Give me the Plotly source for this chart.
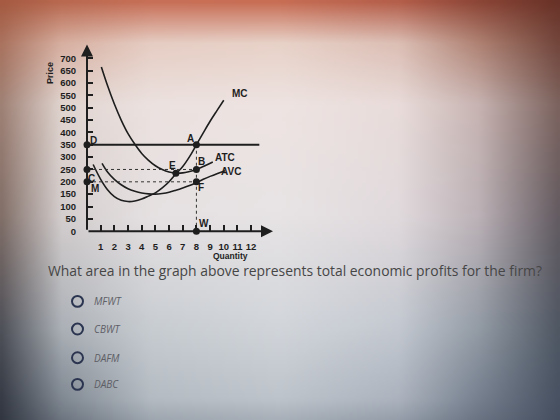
import base64, struct, zlib
import numpy as np
import plotly.graph_objects as go

# ---------------- data ----------------
mc_q = [0.45, 1, 1.5, 2, 2.5, 3, 3.5, 4, 4.5, 5, 5.5, 6, 6.5, 7, 7.5, 8, 8.5, 9, 9.5, 10]
mc_p = [270, 210, 168, 140, 125, 120, 122, 130, 142, 155, 175, 200, 232, 262, 302, 350, 398, 445, 488, 530]

atc_q = [1.05, 1.5, 2, 2.5, 3, 3.5, 4, 4.5, 5, 5.5, 6, 6.5, 7, 7.5, 8, 8.5, 9.2]
atc_p = [665, 590, 515, 450, 395, 352, 315, 287, 265, 250, 240, 235, 236, 242, 250, 262, 280]

avc_q = [1.1, 1.5, 2, 2.5, 3, 3.5, 4, 4.5, 5, 5.5, 6, 6.5, 7, 7.5, 8, 8.5, 9, 9.5, 10.1]
avc_p = [275, 240, 210, 188, 172, 162, 155, 151, 150, 153, 158, 166, 175, 185, 197, 210, 222, 233, 245]

price_mr = 350
mr_q = [0, 12.6]

point_names = ["D", "A", "E", "B", "F", "W", "C", "M"]
point_q = [0, 8, 6.5, 8, 8, 8, 0, 0]
point_p = [350, 350, 235, 250, 200, 0, 250, 200]

x_ticks = list(range(1, 13))
y_ticks = list(range(0, 701, 50))

question = "What area in the graph above represents total economic profits for the firm?"
options = ["MFWT", "CBWT", "DAFM", "DABC"]

# ---------------- background (photo vignette) ----------------
bg_x = [0, 60, 150, 280, 400, 480, 560]
bg_y = [0, 40, 100, 210, 320, 390, 420]
bg_rows = [
    [(165, 90, 65), (185, 105, 80), (200, 112, 88), (200, 110, 85), (180, 95, 75), (140, 70, 55), (105, 50, 40)],
    [(170, 115, 95), (215, 175, 160), (230, 205, 195), (232, 210, 200), (220, 190, 180), (175, 130, 115), (115, 70, 60)],
    [(160, 130, 118), (225, 213, 208), (236, 226, 224), (238, 228, 226), (233, 220, 218), (200, 180, 178), (125, 100, 95)],
    [(130, 112, 105), (212, 206, 206), (230, 225, 226), (232, 228, 229), (225, 218, 221), (188, 178, 183), (100, 92, 98)],
    [(80, 82, 90), (172, 177, 183), (200, 205, 210), (210, 214, 219), (196, 201, 209), (148, 156, 166), (80, 88, 100)],
    [(55, 60, 70), (128, 136, 146), (180, 187, 194), (190, 196, 203), (172, 179, 190), (118, 128, 143), (72, 82, 98)],
    [(48, 53, 63), (100, 108, 120), (148, 156, 166), (158, 166, 176), (138, 148, 160), (100, 110, 125), (68, 78, 95)],
]


def make_bg_png():
    W, H = 140, 105
    grid = np.array(bg_rows, dtype=float)
    px = np.linspace(0, 560, W)
    py = np.linspace(0, 420, H)
    tmp = np.zeros((len(bg_y), W, 3))
    for r in range(len(bg_y)):
        for c in range(3):
            tmp[r, :, c] = np.interp(px, bg_x, grid[r, :, c])
    img = np.zeros((H, W, 3))
    for i in range(W):
        for c in range(3):
            img[:, i, c] = np.interp(py, bg_y, tmp[:, i, c])
    img = np.clip(img, 0, 255).astype(np.uint8)
    raw = b"".join(b"\x00" + img[r].tobytes() for r in range(H))

    def chunk(tag, data):
        return struct.pack(">I", len(data)) + tag + data + struct.pack(">I", zlib.crc32(tag + data) & 0xFFFFFFFF)

    png = b"\x89PNG\r\n\x1a\n" + chunk(b"IHDR", struct.pack(">IIBBBBB", W, H, 8, 2, 0, 0, 0)) \
        + chunk(b"IDAT", zlib.compress(raw, 9)) + chunk(b"IEND", b"")
    return "data:image/png;base64," + base64.b64encode(png).decode()


INK = "#1e1e1e"
LBL = dict(family="Liberation Sans, Arial, sans-serif", size=10, color=INK, weight="bold")

fig = go.Figure()

# curves
for q, p in [(mc_q, mc_p), (atc_q, atc_p), (avc_q, avc_p)]:
    fig.add_trace(go.Scatter(x=q, y=p, mode="lines", line=dict(color=INK, width=1.6, shape="spline", smoothing=1.0),
                             hoverinfo="skip", showlegend=False, cliponaxis=False))

# P = MR line
fig.add_trace(go.Scatter(x=mr_q, y=[price_mr, price_mr], mode="lines", line=dict(color=INK, width=2),
                         showlegend=False, cliponaxis=False))

# dashed guides
qA = point_q[point_names.index("A")]
for nm in ["C", "M"]:
    i = point_names.index(nm)
    fig.add_trace(go.Scatter(x=[point_q[i], qA], y=[point_p[i], point_p[i]], mode="lines",
                             line=dict(color="#333", width=1, dash="dot"), showlegend=False, cliponaxis=False))
fig.add_trace(go.Scatter(x=[qA, qA], y=[price_mr, 0], mode="lines",
                         line=dict(color="#333", width=1, dash="dot"), showlegend=False, cliponaxis=False))

# points
fig.add_trace(go.Scatter(x=point_q, y=point_p, mode="markers", marker=dict(color=INK, size=7),
                         showlegend=False, cliponaxis=False))

# point labels
label_pos = {"D": (0.45, 368), "A": (7.6, 375), "E": (6.25, 268), "B": (8.35, 283),
             "C": (0.35, 213), "M": (0.55, 171), "F": (8.3, 176), "W": (8.55, 30)}
for nm, (lx, ly) in label_pos.items():
    fig.add_annotation(x=lx, y=ly, text=nm, showarrow=False, font=LBL)

for txt, lx, ly in [("MC", 11.2, 558), ("ATC", 10.1, 297), ("AVC", 10.55, 242), ("P=MR", 14.35, 345)]:
    fig.add_annotation(x=lx, y=ly, text=txt, showarrow=False, font=LBL)

# axis arrows
fig.add_annotation(x=13.6, y=0, ax=0, ay=0, axref="x", ayref="y", text="", showarrow=True,
                   arrowhead=2, arrowsize=1.2, arrowwidth=2, arrowcolor=INK)
fig.add_annotation(x=0, y=756, ax=0, ay=0, axref="x", ayref="y", text="", showarrow=True,
                   arrowhead=2, arrowsize=1.2, arrowwidth=2, arrowcolor=INK)

# axis titles
fig.add_annotation(xref="paper", yref="paper", x=50 / 560, y=1 - 74 / 420, yanchor="middle", xanchor="center",
                   text="Price", textangle=-90,
                   showarrow=False, font=dict(family="Liberation Sans, Arial", size=9, color=INK, weight="bold"))
fig.add_annotation(xref="paper", yref="paper", x=230 / 560, y=1 - 259 / 420, yanchor="middle",
                   text="Quantity",
                   showarrow=False, font=dict(family="Liberation Sans, Arial", size=8.5, color=INK, weight="bold"))

# question
fig.add_annotation(xref="paper", yref="paper", x=46 / 560, y=1 - 274 / 420, xanchor="left", yanchor="middle",
                   text=question,
                   showarrow=False, font=dict(family="Open Sans, sans-serif", size=13.9, color="#464646"))

opt_y = [305, 333, 362, 389]
for txt, yy in zip(options, opt_y):
    fig.add_shape(type="circle", xref="paper", yref="paper",
                  x0=(77.5 - 5.5) / 560, x1=(77.5 + 5.5) / 560,
                  y0=1 - (yy + 5.5) / 420, y1=1 - (yy - 5.5) / 420,
                  line=dict(color="#2b3550", width=2))
    fig.add_annotation(xref="paper", yref="paper", x=92 / 560, y=1 - yy / 420, xanchor="left", yanchor="middle",
                       text="<i>" + txt + "</i>", showarrow=False,
                       font=dict(family="Open Sans, sans-serif", size=10, color="#5e5e66"))

fig.update_layout(
    width=560, height=420, autosize=False, margin=dict(l=0, r=0, t=0, b=0),
    paper_bgcolor="#6a7280", plot_bgcolor="rgba(0,0,0,0)",
    images=[dict(source=make_bg_png(), xref="paper", yref="paper", x=0, y=1, sizex=1, sizey=1.04,
                 sizing="stretch", xanchor="left", yanchor="top", layer="below")],
    xaxis=dict(domain=[87 / 560, 273 / 560], range=[0, 13.6], showgrid=False, zeroline=False, showline=False,
               tickvals=x_ticks, ticks="inside", ticklen=6, tickwidth=1.5, tickcolor=INK,
               ticklabelstandoff=8,
               tickfont=dict(family="Liberation Sans, Arial", size=9.5, color=INK, weight="bold")),
    yaxis=dict(domain=[1 - 234 / 420, 1 - 45 / 420], range=[0, 756], showgrid=False, zeroline=False, showline=False,
               tickvals=y_ticks, ticks="inside", ticklen=6, tickwidth=1.5, tickcolor=INK,
               ticklabelstandoff=10,
               tickfont=dict(family="Liberation Sans, Arial", size=9.5, color=INK, weight="bold")),
)

fig.write_html("out.html", post_script="document.body.style.background='#6a7280';document.body.style.margin='0';")
